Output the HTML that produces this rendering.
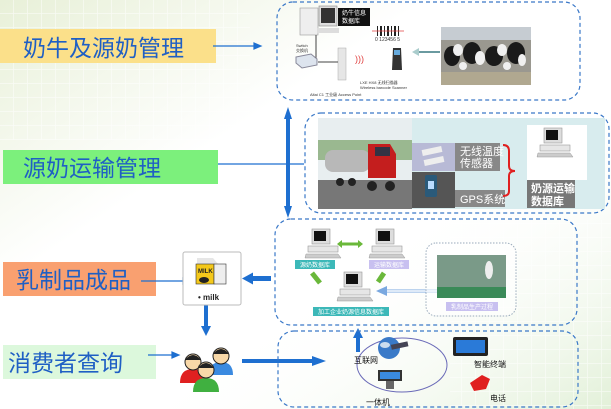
<!DOCTYPE html>
<html><head><meta charset="utf-8"><style>
html,body{margin:0;padding:0;width:611px;height:409px;overflow:hidden;background:#fff}
svg{display:block}
text{font-family:"Liberation Sans","Noto Sans CJK SC",sans-serif}
</style></head><body>
<svg width="611" height="409" viewBox="0 0 611 409" xmlns="http://www.w3.org/2000/svg">
<defs>
<linearGradient id="bgl" x1="0" y1="0" x2="1" y2="1">
<stop offset="0" stop-color="#e8f0d8"/><stop offset="0.35" stop-color="#fff"/></linearGradient>
<linearGradient id="bgr" x1="1" y1="1" x2="0" y2="0">
<stop offset="0" stop-color="#e2f0d8"/><stop offset="0.4" stop-color="#fff" stop-opacity="0"/></linearGradient>
<pattern id="grid" width="14" height="14" patternUnits="userSpaceOnUse">
<path d="M14 0V14H0" fill="none" stroke="#fff" stroke-width="1.5"/></pattern>
<g id="pc">
<rect x="4" y="0" width="18" height="15" fill="#ddd" stroke="#999" stroke-width=".6"/>
<rect x="6" y="2" width="12" height="10" fill="#111"/>
<rect x="0" y="17" width="30" height="6" fill="#e6e6e6" stroke="#999" stroke-width=".6"/>
<path d="M-2 25h32l3 4h-36z" fill="#ccc" stroke="#999" stroke-width=".5"/>
</g>
</defs>
<rect width="611" height="409" fill="url(#bgl)"/>
<rect width="611" height="409" fill="url(#bgr)"/>
<rect x="0" y="0" width="250" height="140" fill="url(#grid)" opacity=".6"/>
<rect x="450" y="220" width="161" height="189" fill="url(#grid)" opacity=".6"/>

<!-- labels -->
<rect x="0" y="29" width="216" height="34" fill="#fbe08a"/>
<text x="23" y="56" font-size="23" fill="#1f5fc4">奶牛及源奶管理</text>
<rect x="3" y="150" width="215" height="34" fill="#7cf07c"/>
<text x="23" y="176" font-size="23" fill="#1f5fc4">源奶运输管理</text>
<rect x="3" y="262" width="153" height="34" fill="#f9a070"/>
<text x="16" y="288" font-size="23" fill="#1f5fc4">乳制品成品</text>
<rect x="3" y="345" width="153" height="34" fill="#dcf8dc"/>
<text x="8" y="371" font-size="23" fill="#1f5fc4">消费者查询</text>

<!-- thin arrows -->
<g stroke="#1e6fd0" stroke-width="1.2" fill="#1e6fd0">
<line x1="213" y1="46" x2="255" y2="46"/><path d="M261 46l-7-3v6z"/>
<line x1="218" y1="164" x2="304" y2="164"/>
<line x1="141" y1="281" x2="184" y2="281"/><path d="M190 281l-7-3v6z"/>
<line x1="148" y1="355" x2="173" y2="355"/><path d="M179 355l-7-3v6z"/>
</g>

<!-- thick arrows -->
<g fill="#1e6fd0">
<rect x="286" y="118" width="4" height="90"/><path d="M288 107l-4 12h8zM288 218l-4-12h8z"/>
<rect x="250" y="276" width="21" height="5"/><path d="M242 278.5l11-6v12z"/>
<rect x="204" y="304" width="4" height="24"/><path d="M206 336l-5-10h10z"/>
<rect x="242" y="359" width="72" height="4"/><path d="M326 361l-14-5v10z"/>
<rect x="356" y="337" width="4" height="15"/><path d="M358 328l-5 10h10z"/>
</g>

<!-- dashed boxes -->
<g fill="none" stroke="#3a78c8" stroke-width="1.2" stroke-dasharray="4,3">
<rect x="277" y="2" width="303" height="98" rx="16"/>
<rect x="305" y="113" width="304" height="100" rx="16"/>
<rect x="275" y="219" width="302" height="106" rx="16"/>
<rect x="278" y="331" width="300" height="76" rx="16"/>
</g>

<!-- box1 content -->
<rect x="300" y="8" width="18" height="27" fill="#eee" stroke="#999" stroke-width=".6"/>
<rect x="319" y="6" width="18" height="20" fill="#ddd" stroke="#888" stroke-width=".6"/><rect x="321" y="8" width="14" height="15" fill="#333"/>
<rect x="317" y="28" width="22" height="5" fill="#ddd"/>
<rect x="338" y="8" width="32" height="18" fill="#111"/>
<text x="342" y="15" font-size="6" fill="#fff">奶牛信息</text><text x="342" y="23" font-size="6" fill="#fff">数据库</text>
<path d="M316 35v28h-11" stroke="#444" fill="none"/>
<text x="296" y="47" font-size="4" fill="#333">Switch</text><text x="296" y="52" font-size="4" fill="#333">交换机</text>
<path d="M296 57l15-3 6 5v6l-15 3-6-5z" fill="#dde4ee" stroke="#889"/>
<rect x="338" y="48" width="8" height="32" fill="#e6e6e6" stroke="#aaa" stroke-width=".5"/>
<path d="M318 62h20" stroke="#444"/>
<text x="355" y="62" font-size="9" fill="#e04040">)))</text>
<g fill="#222"><rect x="377" y="26" width="1" height="10"/><rect x="380" y="26" width="2" height="10"/><rect x="384" y="26" width="1" height="10"/><rect x="387" y="26" width="2" height="10"/><rect x="391" y="26" width="1" height="10"/><rect x="394" y="26" width="2" height="10"/><rect x="398" y="26" width="1" height="10"/></g>
<line x1="372" y1="31" x2="404" y2="31" stroke="#e04040" stroke-width=".8"/>
<text x="375" y="41" font-size="5" fill="#333">0 123456 5</text>
<path d="M393 48h8l1 22h-10z" fill="#333"/><rect x="394" y="50" width="6" height="5" fill="#6ad"/>
<text x="360" y="84" font-size="4" fill="#333">LXE HX8 无线扫描器</text><text x="360" y="89" font-size="4" fill="#333">Wireless barcode Scanner</text>
<text x="310" y="96" font-size="4" fill="#333">Altai C1 工业级 Access Point</text>
<path d="M440 52h-22" stroke="#6a9aa0" stroke-width="2"/><path d="M412 52l7-4v8z" fill="#aacccc"/>
<rect x="441" y="27" width="90" height="58" fill="#9a9890"/>
<rect x="441" y="27" width="90" height="13" fill="#c6ccd2"/>
<rect x="441" y="72" width="90" height="13" fill="#b0a890"/>
<g fill="#1a1a1a"><ellipse cx="452" cy="56" rx="8" ry="10"/><ellipse cx="472" cy="53" rx="9" ry="11"/><ellipse cx="494" cy="56" rx="9" ry="10"/><ellipse cx="516" cy="53" rx="9" ry="11"/></g>
<g fill="#f0f0f0"><ellipse cx="458" cy="50" rx="5" ry="6"/><ellipse cx="480" cy="58" rx="5" ry="7"/><ellipse cx="502" cy="50" rx="5" ry="6"/><ellipse cx="522" cy="60" rx="4" ry="6"/><ellipse cx="463" cy="66" rx="4" ry="4"/><ellipse cx="507" cy="66" rx="4" ry="4"/></g>

<!-- box2 content -->
<rect x="318" y="118" width="287" height="91" fill="#d8ecee"/>
<rect x="318" y="118" width="94" height="91" fill="#e8eef0"/>
<rect x="318" y="140" width="94" height="20" fill="#9ab890"/>
<rect x="318" y="180" width="94" height="29" fill="#777"/>
<rect x="325" y="150" width="45" height="22" rx="8" fill="#b8b8b8"/>
<path d="M368 144h22l6 10v24h-28z" fill="#c41e1e"/>
<rect x="375" y="147" width="15" height="9" fill="#334"/>
<g fill="#222"><circle cx="340" cy="182" r="4"/><circle cx="352" cy="182" r="4"/><circle cx="372" cy="186" r="5"/><circle cx="390" cy="186" r="5"/></g>
<rect x="412" y="143" width="43" height="28" fill="#b8bad6"/>
<rect x="422" y="148" width="20" height="6" fill="#eee" transform="rotate(-12 432 151)"/>
<rect x="424" y="158" width="20" height="6" fill="#eee" transform="rotate(-12 434 161)"/>
<rect x="412" y="172" width="43" height="36" fill="#555"/>
<rect x="425" y="175" width="12" height="22" rx="2" fill="#2a5a7a"/><rect x="428" y="181" width="6" height="8" fill="#bdf"/>
<rect x="455" y="143" width="45" height="28" fill="#888"/>
<text x="460" y="155" font-size="11" fill="#fff">无线温度</text><text x="460" y="167" font-size="11" fill="#fff">传感器</text>
<rect x="455" y="190" width="50" height="17" fill="#888"/>
<text x="460" y="203" font-size="11" fill="#fff">GPS系统</text>
<path d="M503 145q6 0 6 6v15q0 5 6 5q-6 0-6 5v15q0 5-6 5" fill="none" stroke="#e02020" stroke-width="2"/>
<rect x="527" y="125" width="60" height="55" fill="#fff"/>
<g transform="translate(540,128)"><use href="#pc"/></g>
<rect x="527" y="180" width="48" height="28" fill="#777"/>
<text x="531" y="192" font-size="11" font-weight="bold" fill="#fff">奶源运输</text><text x="531" y="205" font-size="11" font-weight="bold" fill="#fff">数据库</text>

<!-- box3 content -->
<g transform="translate(308,229)"><use href="#pc"/></g>
<g transform="translate(372,229)"><use href="#pc"/></g>
<g transform="translate(340,272)"><use href="#pc"/></g>
<rect x="295" y="260" width="40" height="9" fill="#3cb8b8"/><text x="300" y="267" font-size="6" fill="#fff">源奶数据库</text>
<rect x="369" y="260" width="40" height="9" fill="#c8c0f0"/><text x="374" y="267" font-size="6" fill="#fff">运输数据库</text>
<rect x="313" y="307" width="76" height="9" fill="#3cb8b8"/><text x="318" y="314" font-size="6" fill="#fff">加工企业奶源信息数据库</text>
<path d="M340 244h20" stroke="#6ab83a" stroke-width="3"/><path d="M337 244l5-4v8zM363 244l-5-4v8z" fill="#6ab83a"/>
<path d="M312 273l8 10" stroke="#6ab83a" stroke-width="5"/>
<path d="M384 273l-6 9" stroke="#6ab83a" stroke-width="5"/>
<path d="M437 291h-50" stroke="#7aa8e0" stroke-width="3"/><path d="M437 291h-50" stroke="#fff" stroke-width="1.5"/><path d="M376 291l11-5v10z" fill="#7aa8e0"/>
<rect x="426" y="243" width="90" height="73" rx="10" fill="#fff" fill-opacity=".5" stroke="#9ab" stroke-dasharray="1.5,1.5"/>
<rect x="437" y="255" width="69" height="43" fill="#7a9a88"/>
<rect x="437" y="287" width="69" height="11" fill="#3a8a58"/>
<ellipse cx="489" cy="270" rx="4" ry="9" fill="#eee"/>
<rect x="446" y="302" width="52" height="9" fill="#c8c0f0"/><text x="451" y="309" font-size="6" fill="#fff">乳制品生产过程</text>

<!-- milk box -->
<rect x="183" y="252" width="58" height="53" rx="2" fill="#fff" stroke="#bbb"/>
<path d="M197 258h16l5 6v20h-21z" fill="#e6e6e6"/>
<rect x="196" y="264" width="18" height="20" fill="#f4c81a" stroke="#333" stroke-width=".6"/>
<text x="198" y="273" font-size="6" font-weight="bold" fill="#222">MILK</text>
<rect x="214" y="264" width="12" height="20" fill="#eee" stroke="#333" stroke-width=".6"/>
<ellipse cx="204" cy="280" rx="5" ry="3" fill="#222"/>
<text x="198" y="300" font-size="8" font-weight="bold" fill="#222">• milk</text>

<!-- people -->
<path d="M180 383q0-14 13-14q13 0 13 14z" fill="#e02020"/><circle cx="193" cy="362" r="8" fill="#f8d8a8" stroke="#222" stroke-width="1"/><path d="M185 360q8-10 16 0z" fill="#222"/>
<path d="M209 375q0-13 12-13q12 0 12 13z" fill="#3a8ae0"/><circle cx="221" cy="356" r="8" fill="#f8d8a8" stroke="#222"/><path d="M213 354q8-10 16 0z" fill="#222"/>
<path d="M193 392q0-14 13-14q13 0 13 14z" fill="#40b040"/><circle cx="206" cy="370" r="8" fill="#f8d8a8" stroke="#222"/><path d="M198 368q8-10 16 0z" fill="#222"/>

<!-- box4 content -->
<ellipse cx="402" cy="365" rx="45" ry="27" fill="none" stroke="#6a6ab8" stroke-width="1"/>
<circle cx="389" cy="348" r="11" fill="#3a7ac8"/><ellipse cx="385" cy="345" rx="5" ry="3" fill="#cde"/>
<rect x="391" y="343" width="17" height="5" fill="#445" transform="rotate(-12 400 345)"/>
<text x="354" y="363" font-size="8" fill="#111">互联网</text>
<rect x="453" y="337" width="35" height="19" rx="2" fill="#222"/><rect x="456" y="340" width="29" height="13" fill="#2a7ad8"/>
<text x="474" y="367" font-size="8" fill="#111">智能终端</text>
<rect x="378" y="370" width="24" height="11" fill="#333"/><rect x="380" y="372" width="20" height="7" fill="#3a8ae0"/>
<rect x="386" y="381" width="8" height="8" fill="#666"/>
<text x="366" y="405" font-size="8" fill="#111">一体机</text>
<path d="M470 383l12-8 8 4-4 10-12 2z" fill="#e02020"/>
<text x="490" y="401" font-size="8" fill="#111">电话</text>
</svg>
</body></html>
